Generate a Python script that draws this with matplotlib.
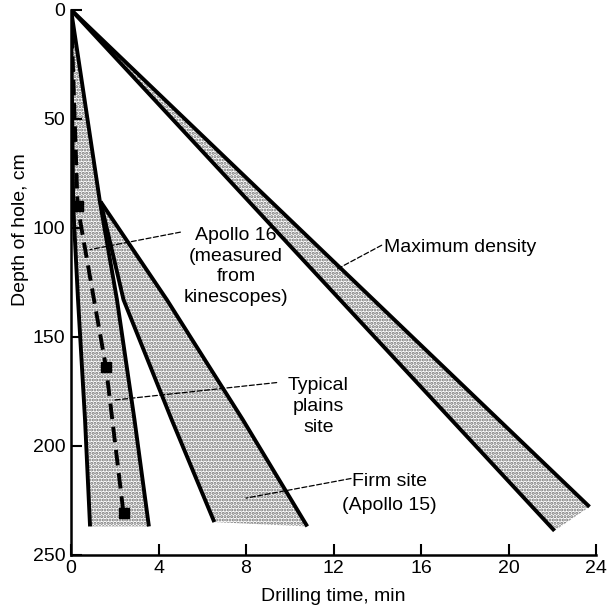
import matplotlib
matplotlib.use("Agg")
import matplotlib.pyplot as plt

plt.rcParams['font.family'] = ['Liberation Sans', 'DejaVu Sans']
plt.rcParams['hatch.linewidth'] = 1.5

# band edges, drilling time (min) vs depth (cm)
max_upper_t = [0, 23.7]
max_upper_d = [0, 228]
max_lower_t = [0, 22.1]
max_lower_d = [0, 239]

typ_left_t = [0, 0.1, 0.32, 0.64, 0.87]
typ_left_d = [0, 90, 133, 188, 237]
typ_right_t = [0, 1.32, 2.1, 2.9, 3.56]
typ_right_d = [0, 88, 133, 188, 237]

firm_left_t = [1.35, 2.4, 4.6, 6.55]
firm_left_d = [88, 133, 188, 235]
firm_right_t = [1.35, 4.38, 7.85, 10.8]
firm_right_d = [88, 133, 188, 237]

# Apollo 16 measured from kinescopes
a16_t = [0, 0.3, 1.05, 1.6, 2.4]
a16_d = [0, 90, 133, 164, 231]
a16_pts_t = [0.3, 1.6, 2.4]
a16_pts_d = [90, 164, 231]

x_ticks = [0, 4, 8, 12, 16, 20, 24]
y_ticks = [0, 50, 100, 150, 200, 250]


def band(ax, t1, d1, t2, d2):
    """Stippled band between two edges, edges drawn thick"""
    ax.fill(t1 + t2[::-1], d1 + d2[::-1], facecolor='white', edgecolor='#707070',
            hatch='.....', linewidth=0, zorder=1)
    ax.plot(t1, d1, color='black', lw=2.8, solid_capstyle='butt', zorder=3)
    ax.plot(t2, d2, color='black', lw=2.8, solid_capstyle='butt', zorder=3)


fig = plt.figure(figsize=(6.07, 6.11), dpi=100)
ax = fig.add_axes([0.117, 0.092, 0.865, 0.892])

band(ax, max_upper_t, max_upper_d, max_lower_t, max_lower_d)
band(ax, typ_left_t, typ_left_d, typ_right_t, typ_right_d)
band(ax, firm_left_t, firm_left_d, firm_right_t, firm_right_d)

ax.plot(a16_t, a16_d, color='black', lw=2.8, dashes=(4, 2), zorder=4)
ax.plot(a16_pts_t, a16_pts_d, 's', color='black', ms=6.5, zorder=5)

lead = dict(arrowstyle='-', linestyle=(0, (4, 2)), lw=0.9, color='black',
            shrinkA=0, shrinkB=0)
fs = 14
ax.annotate('', xy=(0.87, 110), xytext=(5.0, 102), arrowprops=lead)
ax.text(7.55, 99.5, 'Apollo 16\n(measured\nfrom\nkinescopes)', ha='center', va='top',
        multialignment='center', fontsize=fs, linespacing=1.3)

ax.annotate('', xy=(12.15, 119), xytext=(14.2, 108), arrowprops=lead)
ax.text(14.3, 109, 'Maximum density', ha='left', va='center', fontsize=fs)

ax.annotate('', xy=(2.0, 179), xytext=(9.4, 171), arrowprops=lead)
ax.text(11.3, 168.5, 'Typical\nplains\nsite', ha='center', va='top',
        multialignment='center', fontsize=fs, linespacing=1.3)

ax.annotate('', xy=(8.0, 224), xytext=(12.8, 215), arrowprops=lead)
ax.text(14.55, 212.5, 'Firm site\n(Apollo 15)', ha='center', va='top',
        multialignment='center', fontsize=fs, linespacing=1.55)

ax.set_xlim(0, 24)
ax.set_ylim(250, 0)
ax.set_xticks(x_ticks)
ax.set_yticks(y_ticks)
ax.tick_params(direction='in', length=8, width=1.5, labelsize=fs, pad=4)
for s in ['top', 'right']:
    ax.spines[s].set_visible(False)
for s in ['left', 'bottom']:
    ax.spines[s].set_linewidth(1.8)

ax.set_xlabel('Drilling time, min', fontsize=fs, labelpad=8)
ax.set_ylabel('Depth of hole, cm', fontsize=fs)
ax.yaxis.set_label_coords(-0.08, 0.596)

fig.savefig('out.png', dpi=100)
